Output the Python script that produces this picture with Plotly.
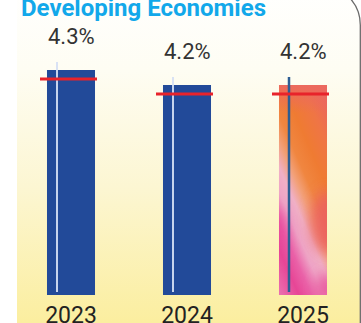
import base64
import plotly.graph_objects as go

# Growth outlook, developing economies (%)
years = ["2023", "2024", "2025"]
growth = [4.3, 4.2, 4.2]
value_labels = ["4.3%", "4.2%", "4.2%"]
earlier_estimate = [4.24, 4.14, 4.14]

W, H = 361, 323
PX_PER_UNIT = 150.0
AXIS_MIN = 2.8
AXIS_MAX = AXIS_MIN + 295 / PX_PER_UNIT
BAR_W = 0.414
BLUE = "#224a99"
RED = "#e8232b"
FONT = "Roboto"


def svg_uri(svg):
    return "data:image/svg+xml;base64," + base64.b64encode(svg.encode()).decode()


# cream panel with a rounded top-right corner
panel_svg = f"""<svg xmlns='http://www.w3.org/2000/svg' width='{W}' height='{H}' viewBox='0 0 {W} {H}'>
<defs><linearGradient id='g' x1='0' y1='0' x2='0' y2='1'>
<stop offset='0' stop-color='#ffffff'/><stop offset='0.25' stop-color='#fefdf3'/>
<stop offset='0.6' stop-color='#fcf6d2'/><stop offset='1' stop-color='#fbee9f'/></linearGradient></defs>
<path d='M17,{H} L17,-15 L320.5,-15 A40,40 0 0 1 360.5,25 L360.5,{H} Z' fill='url(#g)'/>
<path d='M290,-15 L320.5,-15 A40,40 0 0 1 360.3,25 L360.3,{H}' fill='none' stroke='#6b6b6b' stroke-width='1.3'/>
</svg>"""

# painted texture for the forecast-year bar
texture_svg = """<svg xmlns='http://www.w3.org/2000/svg' width='48' height='211' viewBox='0 0 48 211' preserveAspectRatio='none'>
<defs>
<linearGradient id='d' gradientUnits='userSpaceOnUse' x1='48' y1='0' x2='-69.3' y2='51.2'>
<stop offset='0' stop-color='#ea6066'/><stop offset='0.18' stop-color='#ef7545'/>
<stop offset='0.32' stop-color='#ef7b32'/><stop offset='0.44' stop-color='#f08640'/>
<stop offset='0.52' stop-color='#f2a078'/><stop offset='0.6' stop-color='#f0b0c6'/>
<stop offset='0.68' stop-color='#eea4c6'/><stop offset='0.77' stop-color='#ea62a8'/>
<stop offset='0.86' stop-color='#e74696'/><stop offset='1' stop-color='#ea70b0'/></linearGradient>
<linearGradient id='t' x1='0' y1='0' x2='0' y2='1'>
<stop offset='0' stop-color='#ec6a5e' stop-opacity='1'/><stop offset='1' stop-color='#ec6a5e' stop-opacity='0'/></linearGradient>
<filter id='b' x='-1' y='-1' width='3' height='3'><feGaussianBlur stdDeviation='7'/></filter>
</defs>
<rect width='48' height='211' fill='url(#d)'/>
<rect width='48' height='28' fill='url(#t)'/>
<ellipse cx='50' cy='138' rx='18' ry='32' fill='#eb6060' opacity='0.9' filter='url(#b)'/>
<ellipse cx='48' cy='205' rx='12' ry='16' fill='#e8509a' opacity='0.85' filter='url(#b)'/>
<ellipse cx='-2' cy='150' rx='10' ry='26' fill='#e6429a' opacity='0.6' filter='url(#b)'/>
</svg>"""

xs = list(range(len(years)))

fig = go.Figure()
fig.add_bar(
    x=xs, y=growth, width=BAR_W,
    marker=dict(color=[BLUE, BLUE, "#ef7a45"], line_width=0),
    hoverinfo="skip",
)

images = [
    dict(source=svg_uri(panel_svg), xref="paper", yref="paper", x=0, y=1,
         sizex=1, sizey=1, xanchor="left", yanchor="top", sizing="stretch", layer="below"),
    dict(source=svg_uri(texture_svg), xref="x", yref="y",
         x=xs[2] - BAR_W / 2, y=growth[2], sizex=BAR_W, sizey=growth[2] - AXIS_MIN,
         xanchor="left", yanchor="top", sizing="stretch", layer="above"),
]

shapes = []
for i, (v, e) in enumerate(zip(growth, earlier_estimate)):
    # thin guide line inside each bar
    shapes.append(dict(
        type="line", xref="x", yref="y", layer="above",
        x0=i - 14 / 116, x1=i - 14 / 116,
        y0=AXIS_MIN + 3 / PX_PER_UNIT, y1=v + 8 / PX_PER_UNIT,
        line=dict(color="rgba(214,223,244,0.92)" if i < 2 else "#2d5d93",
                  width=2 if i < 2 else 2.5),
    ))
    # earlier estimate marker
    shapes.append(dict(
        type="line", xref="x", yref="y", layer="above",
        x0=i - 31 / 116, x1=i + 26 / 116, y0=e, y1=e,
        line=dict(color=RED, width=3),
    ))

annotations = [
    dict(text=t, x=i, y=v, xref="x", yref="y", yanchor="bottom", xanchor="center",
         yshift=19, showarrow=False, font=dict(family=FONT, size=22, color="#333333"))
    for i, (v, t) in enumerate(zip(growth, value_labels))
]
annotations.append(dict(
    text="<b>Developing Economies</b>", xref="paper", yref="paper",
    x=19 / W, y=1 - 24 / H, xanchor="left", yanchor="bottom", showarrow=False,
    font=dict(family=FONT, size=24, color="#12a8ea"),
))

fig.update_layout(
    width=W, height=H,
    margin=dict(l=0, r=0, t=0, b=0, autoexpand=False),
    paper_bgcolor="white", plot_bgcolor="rgba(0,0,0,0)",
    showlegend=False,
    images=images, shapes=shapes, annotations=annotations,
    xaxis=dict(domain=[13 / W, 1], range=[-0.5, 2.5], tickvals=xs, ticktext=years,
               showgrid=False, zeroline=False, showline=False, ticks="",
               ticklabelstandoff=4, automargin=False,
               tickfont=dict(family=FONT, size=23, color="#222222")),
    yaxis=dict(domain=[28 / H, 1], range=[AXIS_MIN, AXIS_MAX], visible=False,
               automargin=False),
)

fig.write_html("out.html")
